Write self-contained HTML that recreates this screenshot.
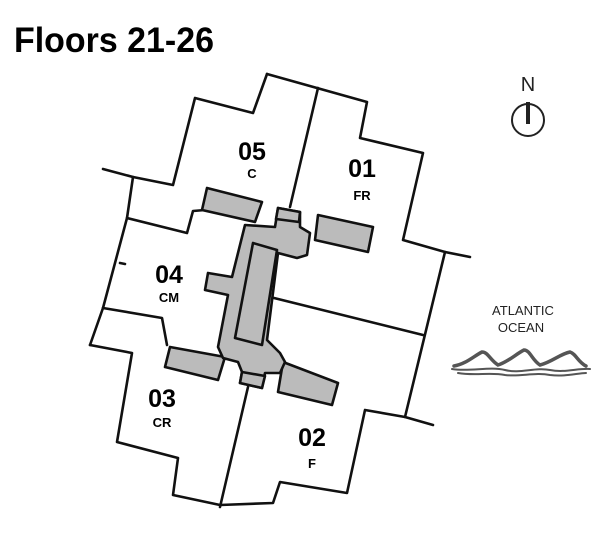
<!DOCTYPE html>
<html><head><style>html,body{margin:0;padding:0;background:#fff;}svg{display:block}</style></head>
<body>
<svg width="612" height="553" viewBox="0 0 612 553" xmlns="http://www.w3.org/2000/svg">
<text x="14" y="52" font-family="Liberation Sans, sans-serif" font-weight="bold" font-size="35" textLength="200" lengthAdjust="spacingAndGlyphs" fill="#000">Floors 21-26</text>
<g fill="none" stroke="#111" stroke-width="2.6" stroke-linejoin="round" stroke-linecap="round">
<polyline points="267,74 367,102 360,138 423,153 403,240 445,252 405,417 365,410 347,493 280,482 273,503 220,505 173,495 178,458 117,442 132,353 90,345"/>
<polyline points="103,308 127,218 133,177 103,169"/>
<polyline points="133,177 173,185 195,98 253,113 267,74"/>
<line x1="445" y1="252" x2="470" y2="257"/>
<line x1="405" y1="417" x2="433" y2="425"/>
<line x1="318" y1="88" x2="290" y2="207"/>
<polyline points="127,218 187,233 193,211 205,210"/>
<polyline points="103,308 162,318 167,345"/>
<line x1="248" y1="387" x2="220" y2="507"/>
<line x1="270" y1="297" x2="423" y2="335"/>
<line x1="120" y1="263" x2="125" y2="264"/>
<line x1="103" y1="308" x2="90" y2="345"/>
</g>
<g fill="#bbb" stroke="#111" stroke-width="2.6" stroke-linejoin="round">
<polygon points="207,188 262,202 255,222 202,210"/>
<polygon points="318,215 373,227 368,252 315,240"/>
<polygon points="170,347 225,357 218,380 165,367"/>
<polygon points="283,362 338,383 332,405 278,392"/>
<polygon points="278,208 300,212 300,227 310,233 307,255 297,258 278,253 267,340 280,353 285,362 280,373 265,373 262,388 240,383 242,372 238,362 223,358 218,347 228,295 205,290 208,273 232,277 245,225 275,227"/>
<polygon points="253,243 277,250 262,345 235,338"/>
<polygon points="242,372 265,376 262,388 240,383"/>
<polygon points="278,208 300,212 299,222 276,219"/>
</g>
<g font-family="Liberation Sans, sans-serif" font-weight="bold" fill="#000" text-anchor="middle">
<text x="252" y="160" font-size="25">05</text><text x="252" y="178" font-size="13">C</text>
<text x="362" y="177" font-size="25">01</text><text x="362" y="200" font-size="13">FR</text>
<text x="169" y="283" font-size="25">04</text><text x="169" y="302" font-size="13">CM</text>
<text x="162" y="407" font-size="25">03</text><text x="162" y="427" font-size="13">CR</text>
<text x="312" y="446" font-size="25">02</text><text x="312" y="468" font-size="13">F</text>
</g>
<text x="528" y="91" font-family="Liberation Sans, sans-serif" font-size="20" text-anchor="middle" fill="#222">N</text>
<circle cx="528" cy="120" r="16" fill="none" stroke="#222" stroke-width="2"/>
<line x1="528" y1="102" x2="528" y2="124" stroke="#222" stroke-width="4"/>
<g font-family="Liberation Sans, sans-serif" font-size="13" text-anchor="middle" fill="#222">
<text x="523" y="315">ATLANTIC</text><text x="521" y="332">OCEAN</text>
</g>
<g fill="none" stroke="#555" stroke-linecap="round">
<path stroke-width="3.5" d="M454,366 C466,364 474,356 482,352 C488,352 490,360 498,365 C508,362 516,354 524,350 C530,350 532,360 540,365 C552,362 560,354 570,352 C576,354 578,362 586,366"/>
<path stroke-width="2" d="M452,369 C470,372 490,366 505,370 C520,374 535,367 550,370 C565,373 578,368 590,369"/>
<path stroke-width="2" d="M458,373 C475,376 490,372 505,375 C520,377 535,372 550,375 C565,377 578,373 586,373"/>
</g>
</svg>
</body></html>
